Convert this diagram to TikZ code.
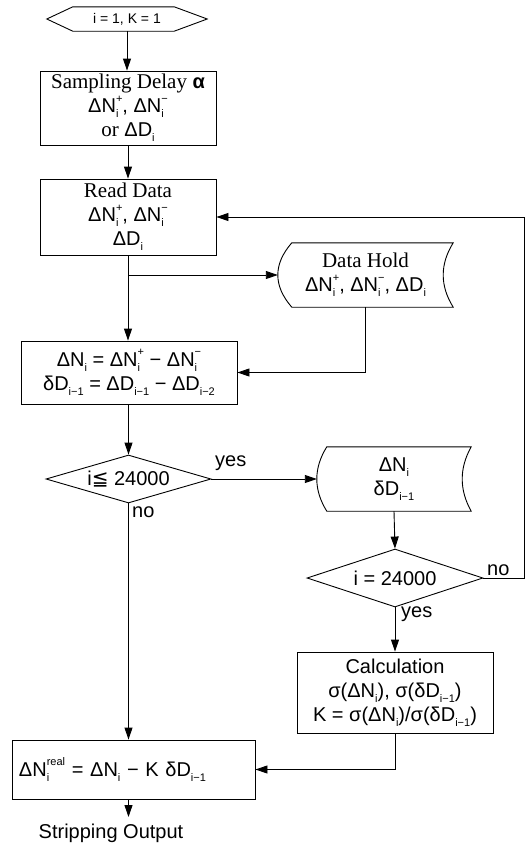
\documentclass[tikz,border=0pt]{standalone}
\usepackage{fontspec}
\setmainfont{Liberation Sans}
\newfontfamily\serifface{Liberation Serif}
\newfontfamily\symface{DejaVu Sans}
\usetikzlibrary{shapes.geometric,arrows.meta,calc}

% text sizes
\newcommand\mainsz{\fontsize{20}{24}\selectfont}
\newcommand\subsz{\fontsize{11}{11}\selectfont}
\newcommand\ser[1]{{\serifface\fontsize{21}{24}\selectfont #1}}
% subscript, and stacked superscript/subscript
\newcommand\Sb[1]{\raisebox{-0.5ex}{\subsz #1}}
\newlength\udw
\newsavebox\udA
\newsavebox\udB
\newcommand\ud[2]{\mbox{\sbox\udA{\subsz #1}\sbox\udB{\subsz #2}%
  \setlength\udw{\wd\udA}\ifdim\wd\udB>\udw\setlength\udw{\wd\udB}\fi
  \rlap{\raisebox{1.0ex}{\usebox\udA}}\rlap{\raisebox{-0.5ex}{\usebox\udB}}\hspace{\udw}}}

% outline of a stored-data symbol around a node:
% #1 node, #2 indent of the convex left side, #3 depth of the concave right side
\newcommand\storedpath[3]{%
  \draw[line] ($(#1.north west)+(#2,0)$) -- (#1.north east)
    .. controls ($(#1.north east)!0.333!(#1.south east)+({-#3*4/3},0)$)
           and ($(#1.north east)!0.667!(#1.south east)+({-#3*4/3},0)$) .. (#1.south east)
    -- ($(#1.south west)+(#2,0)$)
    .. controls ($(#1.south west)!0.333!(#1.north west)+({-#2/3},0)$)
           and ($(#1.south west)!0.667!(#1.north west)+({-#2/3},0)$) .. ($(#1.north west)+(#2,0)$)
    -- cycle;}

\tikzset{
  line/.style={line width=0.9pt, line join=miter},
  procbox/.style={draw, line, inner sep=0, align=center, font=\mainsz},
  storebox/.style={inner sep=0, align=center, font=\mainsz},
  decision/.style={draw, line, diamond, inner sep=0, font=\mainsz},
  arr/.style={line, -{Triangle[length=12pt,width=8pt]}},
  lbl/.style={inner sep=0, font=\mainsz},
}

\begin{document}
\begin{tikzpicture}[x=1pt,y=-1pt]
\useasboundingbox (0,0) rectangle (531,852);

% start
\node[inner sep=0, minimum width=160, minimum height=24, font=\fontsize{14}{16}\selectfont]
  (init) at (127,19) {i = 1, K = 1};
\draw[line] (init.west) -- ($(init.north west)+(26,0)$) -- ($(init.north east)+(-33,0)$)
  -- (init.east) -- ($(init.south east)+(-33,0)$) -- ($(init.south west)+(26,0)$) -- cycle;

% main column
\node[procbox, minimum width=176, minimum height=74] (samp) at (128,108)
  {\ser{Sampling Delay} \textbf{α}\\ ΔN\ud{+}{i}, ΔN\ud{−}{i}\\ \ser{or} ΔD\Sb{i}};
\node[procbox, minimum width=176, minimum height=76] (read) at (128,217)
  {\ser{Read Data}\\ ΔN\ud{+}{i}, ΔN\ud{−}{i}\\ ΔD\Sb{i}};
\node[storebox, minimum width=175, minimum height=64] (hold) at (365.5,275)
  {\ser{Data Hold}\\ ΔN\ud{+}{i}, ΔN\ud{−}{i}, ΔD\Sb{i}};
\storedpath{hold}{14}{10}
\node[procbox, minimum width=216, minimum height=63] (eq) at (129,372.5)
  {ΔN\Sb{i} = ΔN\ud{+}{i} − ΔN\ud{−}{i}\\ δD\Sb{i−1} = ΔD\Sb{i−1} − ΔD\Sb{i−2}};
\node[decision, aspect=3.4, minimum width=165, minimum height=48] (d1) at (128.5,479)
  {i{\symface ≦} 24000};

% right column
\node[storebox, minimum width=154, minimum height=64] (keep) at (394,479)
  {ΔN\Sb{i}\\ δD\Sb{i−1}};
\storedpath{keep}{10}{9}
\node[decision, aspect=3.0, minimum width=176, minimum height=58] (d2) at (395,578)
  {i = 24000};
\node[procbox, minimum width=196, minimum height=81] (calc) at (395,692.5)
  {Calculation\\ σ(ΔN\Sb{i}), σ(δD\Sb{i−1})\\ K = σ(ΔN\Sb{i})/σ(δD\Sb{i−1})};

% output
\node[procbox, minimum width=243, minimum height=59, text width=229, align=left] (fin) at (133.5,769.5)
  {ΔN\ud{real}{i} = ΔN\Sb{i} − K δD\Sb{i−1}};
\node[lbl, anchor=north] (out) at (111,824) {Stripping Output};
\coordinate (loop) at (524,578);
\coordinate (outtip) at (128.5,817);

% connectors
\draw[arr] (init.south) -- (init.south |- samp.north);
\draw[arr] (samp.south) -- (read.north);
\draw[arr] (read.south) -- (read.south |- eq.north);
\draw[arr] (read.south |- hold.west) -- (hold.west);
\draw[arr] (hold.south) |- (eq.east);
\draw[arr] (eq.south -| d1.north) -- (d1.north);
\draw[arr] (d1.east) -- (keep.west);
\draw[arr] (keep.south) -- (d2.north);
\draw[arr] (d2.east) -- (loop) |- (read.east);
\draw[arr] (d2.south) -- (calc.north);
\draw[arr] (calc.south) |- (fin.east);
\draw[arr] (d1.south) -- (d1.south |- fin.north);
\draw[arr] (fin.south -| outtip) -- (outtip);

% branch labels
\node[lbl, anchor=south west] at (215,471) {yes};
\node[lbl, anchor=north west] at (132,507) {no};
\node[lbl, anchor=south west] at (487,576) {no};
\node[lbl, anchor=north west] at (401,607) {yes};
\end{tikzpicture}
\end{document}
